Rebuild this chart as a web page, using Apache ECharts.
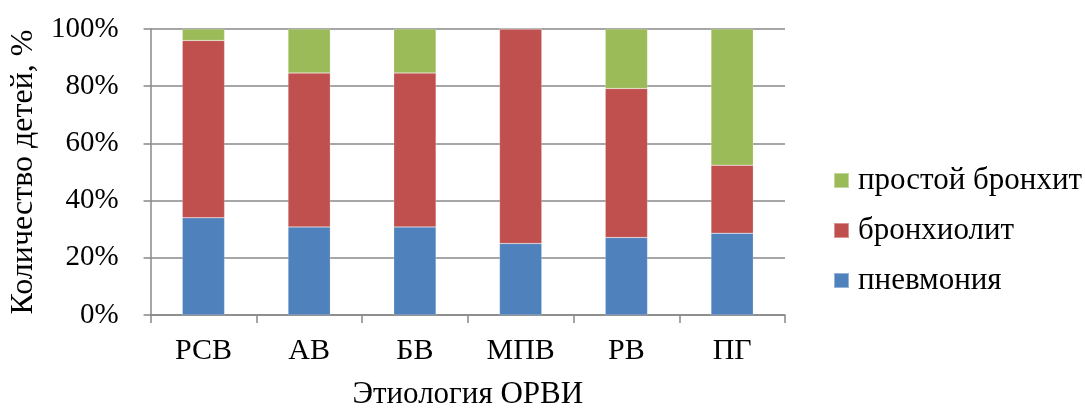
<!DOCTYPE html>
<html>
<head>
<meta charset="utf-8">
<script src="https://cdn.jsdelivr.net/npm/echarts@6/dist/echarts.min.js"></script>
<style>html,body{margin:0;padding:0;background:#fff}#c{width:1085px;height:415px}</style>
</head>
<body>
<div id="c"></div>
<script>
const categories = ['РСВ', 'АВ', 'БВ', 'МПВ', 'РВ', 'ПГ'];
const pneumonia = [34.0, 30.8, 30.8, 25.0, 27.1, 28.6];
const bronchiolitis = [62.0, 53.8, 53.8, 75.0, 52.1, 23.8];
const simpleBronchitis = [4.0, 15.4, 15.4, 0, 20.8, 47.6];
const yTicks = [0, 20, 40, 60, 80, 100];

const font = '"Liberation Serif", "Times New Roman", serif';
const chart = echarts.init(document.getElementById('c'));
const mk = (name, data, color) => ({
  name, type: 'bar', stack: 's', data, barWidth: '40%',
  itemStyle: { color, borderColor: 'rgba(255,255,255,0.4)', borderWidth: 0.5 },
  animation: false
});
chart.setOption({
  animation: false,
  grid: { left: 150, right: 300, top: 29, bottom: 94 },
  legend: {
    orient: 'vertical', left: 828, top: 160, itemWidth: 15, itemHeight: 15, itemGap: 19,
    textStyle: { fontFamily: font, fontSize: 31, color: '#000', padding: [0, 0, 0, 4] },
    data: ['простой бронхит', 'бронхиолит', 'пневмония'],
    icon: 'rect'
  },
  xAxis: {
    type: 'category', data: categories,
    name: 'Этиология ОРВИ', nameLocation: 'middle', nameGap: 64,
    nameTextStyle: { fontFamily: font, fontSize: 31, color: '#000' },
    axisLine: { lineStyle: { color: '#888', width: 1.5 } },
    axisTick: { show: true, length: 8, lineStyle: { color: '#888', width: 1.5 } },
    axisLabel: { fontFamily: font, fontSize: 30, color: '#000', margin: 21 }
  },
  yAxis: {
    type: 'value', min: 0, max: 100, interval: 20,
    name: 'Количество детей, %', nameLocation: 'middle', nameGap: 106,
    nameTextStyle: { fontFamily: font, fontSize: 32, color: '#000' },
    axisLine: { show: true, lineStyle: { color: '#888', width: 1.5 } },
    axisTick: { show: true, length: 7, lineStyle: { color: '#888', width: 1.5 } },
    splitLine: { lineStyle: { color: '#888', width: 1.5 } },
    axisLabel: { fontFamily: font, fontSize: 29, color: '#000', margin: 32,
      formatter: v => yTicks.includes(v) ? v + '%' : '' }
  },
  series: [
    mk('пневмония', pneumonia, '#4F81BD'),
    mk('бронхиолит', bronchiolitis, '#C0504D'),
    mk('простой бронхит', simpleBronchitis, '#9BBB59')
  ]
});
</script>
</body>
</html>
